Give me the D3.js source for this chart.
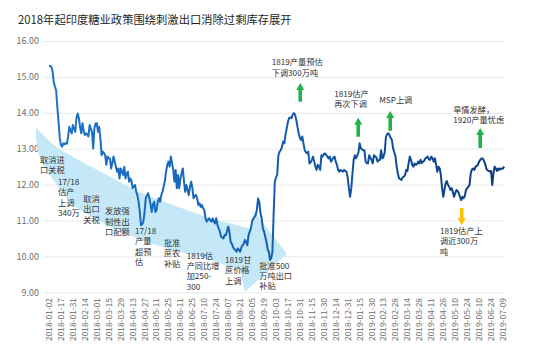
<!DOCTYPE html>
<html>
<head>
<meta charset="utf-8">
<script src="https://cdn.jsdelivr.net/npm/d3@7"></script>
<style>
  body { margin: 0; background: #fff; }
  svg text { font-family: "Noto Sans CJK SC", "Noto Sans", sans-serif; }
</style>
</head>
<body>
<div id="chart"></div>
<script>
// x axis labels, one every 10 trading days
const tickLabels = [
  "2018-01-02", "2018-01-17", "2018-01-31", "2018-02-14", "2018-03-01", "2018-03-15",
  "2018-03-29", "2018-04-13", "2018-04-27", "2018-05-11", "2018-05-25", "2018-06-11",
  "2018-06-25", "2018-07-10", "2018-07-24", "2018-08-07", "2018-08-21", "2018-09-05",
  "2018-09-19", "2018-10-03", "2018-10-17", "2018-10-31", "2018-11-15", "2018-11-30",
  "2018-12-14", "2018-12-31", "2019-01-15", "2019-01-30", "2019-02-13", "2019-02-28",
  "2019-03-14", "2019-03-28", "2019-04-11", "2019-04-26", "2019-05-10", "2019-05-24",
  "2019-06-10", "2019-06-24", "2019-07-09"
];
const tickStep = 10;

const yTicks = [9, 10, 11, 12, 13, 14, 15, 16];

// daily sugar price, one value per trading day
const prices = [
  15.31, 15.30, 15.28, 15.15, 14.85, 14.73, 14.62, 14.15, 13.75, 13.30,
  13.10, 13.06, 13.15, 13.12, 13.16, 13.14, 13.35, 13.61, 13.50, 13.43,
  13.66, 13.55, 13.47, 13.85, 13.98, 13.85, 13.60, 13.43, 13.71, 13.50,
  13.38, 13.43, 13.40, 13.34, 13.66, 13.55, 13.47, 13.01, 13.57, 13.70,
  13.71, 13.47, 13.61, 13.29, 12.82, 12.92, 12.88, 12.82, 12.55, 12.78,
  12.73, 12.73, 12.45, 12.60, 12.78, 12.64, 12.50, 12.36, 12.45, 12.17,
  12.45, 12.36, 12.27, 12.50, 12.17, 12.30, 12.36, 12.08, 12.17, 12.10,
  11.90, 11.95, 11.99, 11.80, 11.70, 11.52, 11.24, 10.87, 10.90, 10.97,
  11.24, 11.62, 11.70, 11.76, 11.62, 11.45, 11.24, 11.45, 11.52, 11.24,
  11.29, 11.52, 11.62, 11.52, 11.71, 11.80, 11.95, 12.10, 12.36, 12.55,
  12.64, 12.50, 12.78, 12.60, 12.41, 12.08, 12.41, 11.90, 12.27, 11.90,
  12.17, 12.32, 12.45, 12.08, 11.80, 11.99, 11.85, 11.71, 11.94, 12.08,
  11.90, 11.62, 11.68, 11.71, 11.62, 11.43, 11.48, 11.38, 11.43, 11.34,
  11.29, 11.06, 10.97, 11.02, 11.06, 11.00, 10.97, 11.06, 10.97, 10.92,
  11.06, 10.87, 10.78, 10.70, 10.55, 10.52, 10.50, 10.60, 10.59, 10.70,
  10.83, 10.69, 10.41, 10.35, 10.27, 10.20, 10.18, 10.13, 10.22, 10.18,
  10.13, 10.25, 10.31, 10.35, 10.46, 10.40, 10.31, 10.59, 10.69, 10.78,
  10.97, 11.06, 11.10, 11.15, 11.30, 11.61, 11.52, 11.20, 11.06, 10.78,
  10.69, 10.55, 10.41, 10.20, 10.13, 9.90, 9.95, 10.13, 11.15, 12.08,
  12.20, 12.27, 12.82, 12.92, 12.96, 13.05, 13.20, 13.15, 13.40, 13.57,
  13.75, 13.85, 13.87, 13.85, 13.95, 13.99, 13.94, 13.80, 13.60, 13.43,
  13.30, 13.24, 13.34, 13.15, 12.96, 12.90, 12.87, 12.92, 12.59, 12.62,
  12.69, 12.78, 12.64, 12.50, 12.41, 12.55, 12.50, 12.41, 12.82, 12.78,
  12.85, 12.87, 12.82, 12.78, 12.73, 12.78, 12.64, 12.69, 12.75, 12.78,
  12.64, 12.55, 12.41, 12.36, 12.41, 12.38, 12.36, 12.41, 12.38, 12.36,
  12.20, 11.90, 11.66, 11.90, 12.31, 12.69, 12.82, 12.73, 12.80, 12.90,
  13.15, 13.01, 12.98, 12.96, 12.96, 12.64, 12.60, 12.59, 12.82, 12.75,
  12.69, 12.59, 12.82, 12.78, 12.76, 12.64, 12.68, 12.69, 12.96, 12.73,
  12.78, 12.90, 13.33, 13.40, 13.43, 13.38, 13.30, 13.24, 13.01, 12.90,
  12.78, 12.50, 12.31, 12.17, 12.15, 12.13, 12.20, 12.22, 12.27, 12.41,
  12.38, 12.60, 12.78, 12.69, 12.55, 12.50, 12.59, 12.55, 12.57, 12.64,
  12.59, 12.69, 12.60, 12.64, 12.66, 12.73, 12.75, 12.78, 12.70, 12.69,
  12.78, 12.73, 12.64, 12.73, 12.55, 12.36, 12.50, 12.45, 12.27, 11.90,
  11.66, 11.85, 12.04, 12.10, 11.99, 11.94, 11.85, 11.90, 11.80, 11.66,
  11.76, 11.85, 11.82, 11.76, 11.66, 11.57, 11.66, 11.62, 11.68, 11.85,
  11.90, 11.94, 11.99, 12.31, 12.42, 12.45, 12.41, 12.50, 12.52, 12.55,
  12.64, 12.69, 12.73, 12.73, 12.66, 12.59, 12.45, 12.40, 12.38, 12.36,
  12.38, 11.99, 12.31, 12.50, 12.45, 12.38, 12.45, 12.41, 12.45, 12.44,
  12.45, 12.50
];

// policy notes, anchored in chart units: [day index, price] of first line
const notes = [
  { at: [-7.5, 12.69], lines: ["取消进", "口关税"] },
  { at: [7.5, 12.07], lines: ["17/18", "估产", "上调", "340万"] },
  { at: [28.7, 11.60], lines: ["取消", "出口", "关税"] },
  { at: [46.9, 11.25], lines: ["发放强", "制性出", "口配额"] },
  { at: [72.0, 10.71], lines: ["17/18", "产量", "超预", "估"] },
  { at: [96.2, 10.37], lines: ["批准", "蔗农", "补贴"] },
  { at: [115.2, 10.02], lines: ["1819估", "产同比增", "加250-", "300"] },
  { at: [147.3, 9.90], lines: ["1819甘", "蔗价格", "上调"] },
  { at: [176.0, 9.74], lines: ["批准500", "万吨出口", "补贴"] },
  { at: [186.4, 15.40], lines: ["1819产量预估", "下调300万吨"] },
  { at: [238.7, 14.52], lines: ["1819估产", "再次下调"] },
  { at: [276.4, 14.36], lines: ["MSP上调"] },
  { at: [338.3, 14.08], lines: ["旱情发酵，", "1920产量忧虑"] },
  { at: [327.2, 10.71], lines: ["1819估产上", "调近300万", "吨"] }
];

// block arrows: day index, tail price, head price
const arrows = [
  { day: 210.3, from: 14.31, to: 14.83, color: "#22b14c" },
  { day: 258.8, from: 13.33, to: 13.86, color: "#22b14c" },
  { day: 285.6, from: 13.50, to: 14.05, color: "#22b14c" },
  { day: 360.9, from: 13.02, to: 13.58, color: "#22b14c" },
  { day: 345.4, from: 11.35, to: 10.87, color: "#ffc000" }
];

// the pale downtrend band (curved arrow), in chart units
const bandUpper = [[-10.9, 13.60], [-7.5, 13.47], [5.0, 13.08], [20.1, 12.77], [48.5, 12.27],
  [76.2, 11.79], [103.8, 11.43], [132.2, 11.10], [159.8, 10.85], [169.9, 10.76]];
const bandHead = [[171.5, 11.26], [199.2, 10.07], [164.0, 9.01]];
const bandLower = [[159.8, 9.62], [132.2, 9.93], [103.8, 10.18], [76.2, 10.48], [48.5, 10.88],
  [20.1, 11.45], [5.0, 12.07], [-7.5, 12.74], [-10.9, 13.38]];

const width = 554, height = 353;

const svg = d3.select("#chart").append("svg")
  .attr("width", width)
  .attr("height", height);

const x = d3.scaleLinear().domain([0, 380]).range([49, 503]);
const y = d3.scaleLinear().domain([9, 16]).range([292.3, 41]);

// title
svg.append("text")
  .attr("x", 18)
  .attr("y", 24)
  .style("font-size", "11.3px")
  .attr("fill", "#262626")
  .text("2018年起印度糖业政策围绕刺激出口消除过剩库存展开");

// y axis with gridlines
const yAxis = svg.append("g")
  .attr("transform", "translate(43,0)")
  .call(d3.axisLeft(y).tickValues(yTicks).tickFormat(d3.format(".2f"))
    .tickSize(-462).tickPadding(4));
yAxis.select(".domain").remove();
yAxis.selectAll(".tick line").attr("stroke", "#e9e9e9");
yAxis.selectAll(".tick text")
  .attr("fill", "#6e6e6e")
  .style("font-size", "9px")
  .style("font-family", "'Noto Sans CJK SC', sans-serif");

// rotated date labels
svg.append("g")
  .selectAll("text")
  .data(tickLabels)
  .join("text")
  .attr("transform", (d, i) => `translate(${x(i * tickStep)},298) rotate(-90)`)
  .attr("text-anchor", "end")
  .attr("dy", "0.35em")
  .attr("fill", "#6e6e6e")
  .style("font-size", "8.4px")
  .text(d => d);

// downtrend band
const edge = d3.line().x(d => x(d[0])).y(d => y(d[1])).curve(d3.curveCatmullRom);
const bandPath = edge(bandUpper)
  + bandHead.map(p => `L${x(p[0])},${y(p[1])}`).join("")
  + edge(bandLower).replace(/^M/, "L") + "Z";
svg.append("path")
  .attr("d", bandPath)
  .attr("fill", "#c4e8f7");

// price line, light blue fading into navy
const grad = svg.append("defs").append("linearGradient")
  .attr("id", "line-gradient")
  .attr("gradientUnits", "userSpaceOnUse")
  .attr("x1", x(0)).attr("x2", x(prices.length - 1))
  .attr("y1", 0).attr("y2", 0);
grad.append("stop").attr("offset", 0).attr("stop-color", "#1b74c9");
grad.append("stop").attr("offset", 0.45).attr("stop-color", "#1461b5");
grad.append("stop").attr("offset", 1).attr("stop-color", "#0d3a80");

svg.append("path")
  .datum(prices)
  .attr("fill", "none")
  .attr("stroke", "url(#line-gradient)")
  .attr("stroke-width", 2)
  .attr("stroke-linejoin", "round")
  .attr("d", d3.line().x((d, i) => x(i)).y(d => y(d)));

// block arrows
function arrowPath(cx, y0, y1) {
  const dir = y1 < y0 ? -1 : 1;
  const headH = 7, headW = 4, shaftW = 1.8;
  const yNeck = y1 - dir * headH;
  return `M${cx - shaftW},${y0} L${cx - shaftW},${yNeck} L${cx - headW},${yNeck}`
    + ` L${cx},${y1} L${cx + headW},${yNeck} L${cx + shaftW},${yNeck} L${cx + shaftW},${y0} Z`;
}
svg.append("g")
  .selectAll("path")
  .data(arrows)
  .join("path")
  .attr("d", d => arrowPath(x(d.day), y(d.from), y(d.to)))
  .attr("fill", d => d.color);

// notes, clipped at the right edge of the plot like the original
svg.append("clipPath").attr("id", "plot-clip")
  .append("rect").attr("x", 0).attr("y", 0).attr("width", 505).attr("height", height);

const noteG = svg.append("g").attr("clip-path", "url(#plot-clip)")
  .selectAll("text")
  .data(notes)
  .join("text")
  .attr("x", d => x(d.at[0]))
  .attr("y", d => y(d.at[1]))
  .attr("fill", "#333")
  .style("font-size", "8.2px");

noteG.selectAll("tspan")
  .data(d => d.lines.map(l => ({ l, x: x(d.at[0]) })))
  .join("tspan")
  .attr("x", d => d.x)
  .attr("dy", (d, i) => i === 0 ? "0.35em" : "10.4px")
  .text(d => d.l);
</script>
</body>
</html>
